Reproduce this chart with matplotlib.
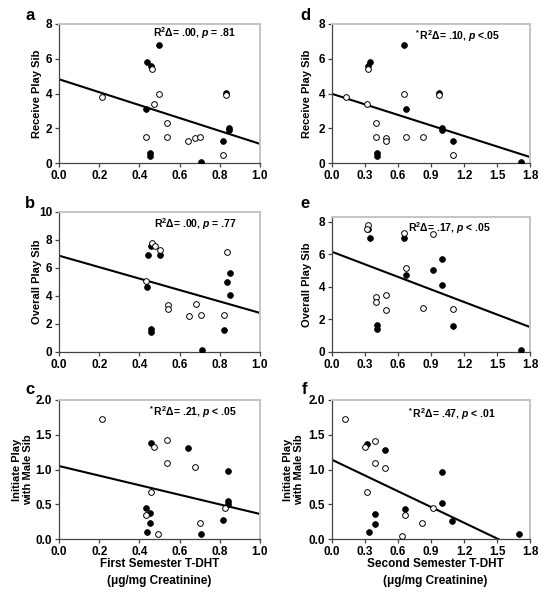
import matplotlib
matplotlib.use("Agg")
import matplotlib.pyplot as plt
import numpy as np

plt.rcParams["font.family"] = ["Liberation Sans", "DejaVu Sans"]
plt.rcParams["font.weight"] = "bold"
plt.rcParams["mathtext.fontset"] = "custom"
plt.rcParams["mathtext.rm"] = "Liberation Sans:bold"
plt.rcParams["mathtext.it"] = "Liberation Sans:bold:italic"
plt.rcParams["mathtext.bf"] = "Liberation Sans:bold"

# panel a: first semester T-DHT vs receive play sib
A_FILLED_X = [0.435, 0.44, 0.46, 0.497, 0.455, 0.455, 0.706, 0.817, 0.844, 0.844, 0.829]
A_FILLED_Y = [3.1, 5.82, 5.59, 6.78, 0.57, 0.42, 0.05, 1.26, 2.03, 1.88, 4.05]
A_OPEN_X = [0.216, 0.432, 0.463, 0.472, 0.497, 0.535, 0.535, 0.643, 0.676, 0.70, 0.816, 0.829]
A_OPEN_Y = [3.77, 1.47, 5.4, 3.37, 4.0, 2.32, 1.49, 1.28, 1.42, 1.51, 0.46, 3.92]

# panel b: first semester vs overall play sib
B_FILLED_X = [0.439, 0.445, 0.46, 0.50, 0.46, 0.46, 0.711, 0.82, 0.836, 0.849, 0.849]
B_FILLED_Y = [4.64, 6.93, 7.55, 6.93, 1.64, 1.43, 0.12, 1.6, 4.98, 5.64, 4.1]
B_OPEN_X = [0.435, 0.463, 0.477, 0.50, 0.543, 0.543, 0.648, 0.681, 0.706, 0.822, 0.834]
B_OPEN_Y = [5.1, 7.79, 7.55, 7.26, 3.36, 3.05, 2.55, 3.43, 2.67, 2.67, 7.14]

# panel c: first semester vs initiate play with male sib
C_FILLED_X = [0.459, 0.642, 0.842, 0.432, 0.454, 0.452, 0.44, 0.705, 0.815, 0.842, 0.842]
C_FILLED_Y = [1.38, 1.31, 0.98, 0.44, 0.37, 0.23, 0.105, 0.07, 0.27, 0.55, 0.51]
C_OPEN_X = [0.216, 0.472, 0.535, 0.535, 0.675, 0.459, 0.432, 0.495, 0.70, 0.827]
C_OPEN_Y = [1.73, 1.33, 1.42, 1.10, 1.03, 0.67, 0.35, 0.067, 0.235, 0.45]

# panel d: second semester vs receive play sib
D_FILLED_X = [0.324, 0.345, 0.652, 0.67, 0.405, 0.405, 1.0, 1.0, 1.10, 1.715, 0.97]
D_FILLED_Y = [5.59, 5.82, 6.78, 3.1, 0.57, 0.42, 2.03, 1.88, 1.26, 0.05, 4.05]
D_OPEN_X = [0.129, 0.315, 0.324, 0.40, 0.40, 0.49, 0.49, 0.652, 0.67, 0.83, 0.97, 1.10]
D_OPEN_Y = [3.77, 3.37, 5.4, 2.32, 1.49, 1.42, 1.28, 4.0, 1.47, 1.51, 3.92, 0.46]

# panel e: second semester vs overall play sib
E_FILLED_X = [0.324, 0.345, 0.65, 0.67, 0.405, 0.405, 0.92, 1.0, 1.0, 1.10, 1.715]
E_FILLED_Y = [7.55, 6.98, 6.98, 4.71, 1.69, 1.43, 5.06, 5.71, 4.12, 1.61, 0.14]
E_OPEN_X = [0.33, 0.315, 0.65, 0.67, 0.40, 0.40, 0.49, 0.49, 0.83, 0.92, 1.10]
E_OPEN_Y = [7.79, 7.55, 7.29, 5.18, 3.41, 3.08, 3.51, 2.59, 2.71, 7.24, 2.67]

# panel f: second semester vs initiate play with male sib
F_FILLED_X = [0.317, 0.48, 0.39, 0.39, 0.34, 0.66, 1.0, 1.0, 1.094, 1.70]
F_FILLED_Y = [1.37, 1.28, 0.36, 0.22, 0.10, 0.43, 0.97, 0.52, 0.26, 0.07]
F_OPEN_X = [0.12, 0.30, 0.39, 0.39, 0.48, 0.317, 0.66, 0.64, 0.82, 0.916]
F_OPEN_Y = [1.73, 1.32, 1.41, 1.09, 1.02, 0.67, 0.34, 0.05, 0.23, 0.44]

# regression lines (intercept, slope)
FIT_INTERCEPT = [4.82, 6.88, 1.05, 3.98, 6.16, 1.14]
FIT_SLOPE = [-3.72, -4.09, -0.69, -2.02, -2.57, -0.755]

STATS = [
    r"R$^2$Δ= .00, $p$ = .81",
    r"R$^2$Δ= .00, $p$ = .77",
    r"$^*$R$^2$Δ= .21, $p$ < .05",
    r"$^*$R$^2$Δ= .10, $p$ <.05",
    r"R$^2$Δ= .17, $p$ < .05",
    r"$^*$R$^2$Δ= .47, $p$ < .01",
]
PANEL_LETTERS = ["a", "b", "c", "d", "e", "f"]
Y_LABELS = ["Receive Play Sib", "Overall Play Sib", "Initiate Play\nwith Male Sib"]
X_LABELS = ["First Semester T-DHT\n(μg/mg Creatinine)", "Second Semester T-DHT\n(μg/mg Creatinine)"]

FILLED = [
    (A_FILLED_X, A_FILLED_Y), (B_FILLED_X, B_FILLED_Y), (C_FILLED_X, C_FILLED_Y),
    (D_FILLED_X, D_FILLED_Y), (E_FILLED_X, E_FILLED_Y), (F_FILLED_X, F_FILLED_Y),
]
OPEN = [
    (A_OPEN_X, A_OPEN_Y), (B_OPEN_X, B_OPEN_Y), (C_OPEN_X, C_OPEN_Y),
    (D_OPEN_X, D_OPEN_Y), (E_OPEN_X, E_OPEN_Y), (F_OPEN_X, F_OPEN_Y),
]

W, H = 553, 600
fig = plt.figure(figsize=(W / 100, H / 100), dpi=100)


def px_axes(left, top, right, bottom):
    return fig.add_axes([left / W, 1 - bottom / H, (right - left) / W, (bottom - top) / H])


# pixel boxes of the six panels (a, b, c, d, e, f)
boxes = [
    (59, 24, 260, 163), (59, 212, 260, 352), (59, 400, 260, 539),
    (332, 24, 530, 163), (332, 217, 530, 352), (332, 400, 530, 539),
]
ylims = [(0, 8), (0, 10), (0, 2), (0, 8), (0, 8.3), (0, 2)]
yticks = [np.arange(0, 9, 2), np.arange(0, 11, 2), np.arange(0, 2.1, 0.5),
          np.arange(0, 9, 2), np.arange(0, 9, 2), np.arange(0, 2.1, 0.5)]
stat_pos = [(0.468, 0.933), (0.473, 0.912), (0.445, 0.916),
            (0.413, 0.914), (0.382, 0.92), (0.38, 0.90)]
letter_pos = [(30, 16), (30, 203), (30, 390), (305, 16), (305, 203), (305, 389)]

for i in range(6):
    ax = px_axes(*boxes[i])
    left_col = i < 3
    xmax = 1.0 if left_col else 1.8

    fx, fy = FILLED[i]
    ox, oy = OPEN[i]
    ax.scatter(fx, fy, s=17, c="black", edgecolors="black", linewidths=0.6, zorder=3)
    ax.scatter(ox, oy, s=17, c="white", edgecolors="black", linewidths=0.7, zorder=4)

    xs = np.array([0, xmax])
    ax.plot(xs, FIT_INTERCEPT[i] + FIT_SLOPE[i] * xs, color="black", lw=1.5, zorder=2)

    ax.set_xlim(0, xmax)
    ax.set_ylim(*ylims[i])
    ax.set_yticks(yticks[i])
    if left_col:
        ax.set_xticks(np.arange(0, 1.01, 0.2))
        ax.set_xticklabels([f"{v:.1f}" for v in np.arange(0, 1.01, 0.2)])
    else:
        ax.set_xticks(np.arange(0, 1.81, 0.3))
        ax.set_xticklabels([f"{v:.1f}" for v in np.arange(0, 1.81, 0.3)])
    if i in (2, 5):
        ax.set_yticklabels([f"{v:.1f}" for v in yticks[i]])
    else:
        ax.set_yticklabels([f"{v:.0f}" for v in yticks[i]])

    for side in ("top", "right"):
        ax.spines[side].set_color("#c4c4c4")
        ax.spines[side].set_linewidth(1.4)
    for side in ("left", "bottom"):
        ax.spines[side].set_color("#444444")
        ax.spines[side].set_linewidth(0.9)
    ax.tick_params(direction="out", length=3, width=0.9, color="#444444",
                   labelsize=8.5, pad=2, top=False, right=False)
    for lab in ax.get_xticklabels() + ax.get_yticklabels():
        lab.set_fontweight("bold")

    row = i % 3
    ax.set_ylabel(Y_LABELS[row], fontsize=8, fontweight="bold", linespacing=1.1)
    if row == 2:
        ax.yaxis.set_label_coords(-0.13 if left_col else -0.14, 0.5)
        ax.set_xlabel(X_LABELS[0 if left_col else 1], fontsize=8.5, fontweight="bold",
                      linespacing=1.45)
        ax.xaxis.set_label_coords(0.5 if left_col else 0.52, -0.14)
    else:
        ax.yaxis.set_label_coords(-0.085 if left_col else -0.10, 0.5)

    ax.text(stat_pos[i][0], stat_pos[i][1], STATS[i], transform=ax.transAxes,
            fontsize=7.5, fontweight="bold", ha="left", va="center")

    lx, ly = letter_pos[i]
    fig.text(lx / W, 1 - ly / H, PANEL_LETTERS[i], fontsize=12, fontweight="bold",
             ha="center", va="center")

plt.savefig("out.png", dpi=100)
